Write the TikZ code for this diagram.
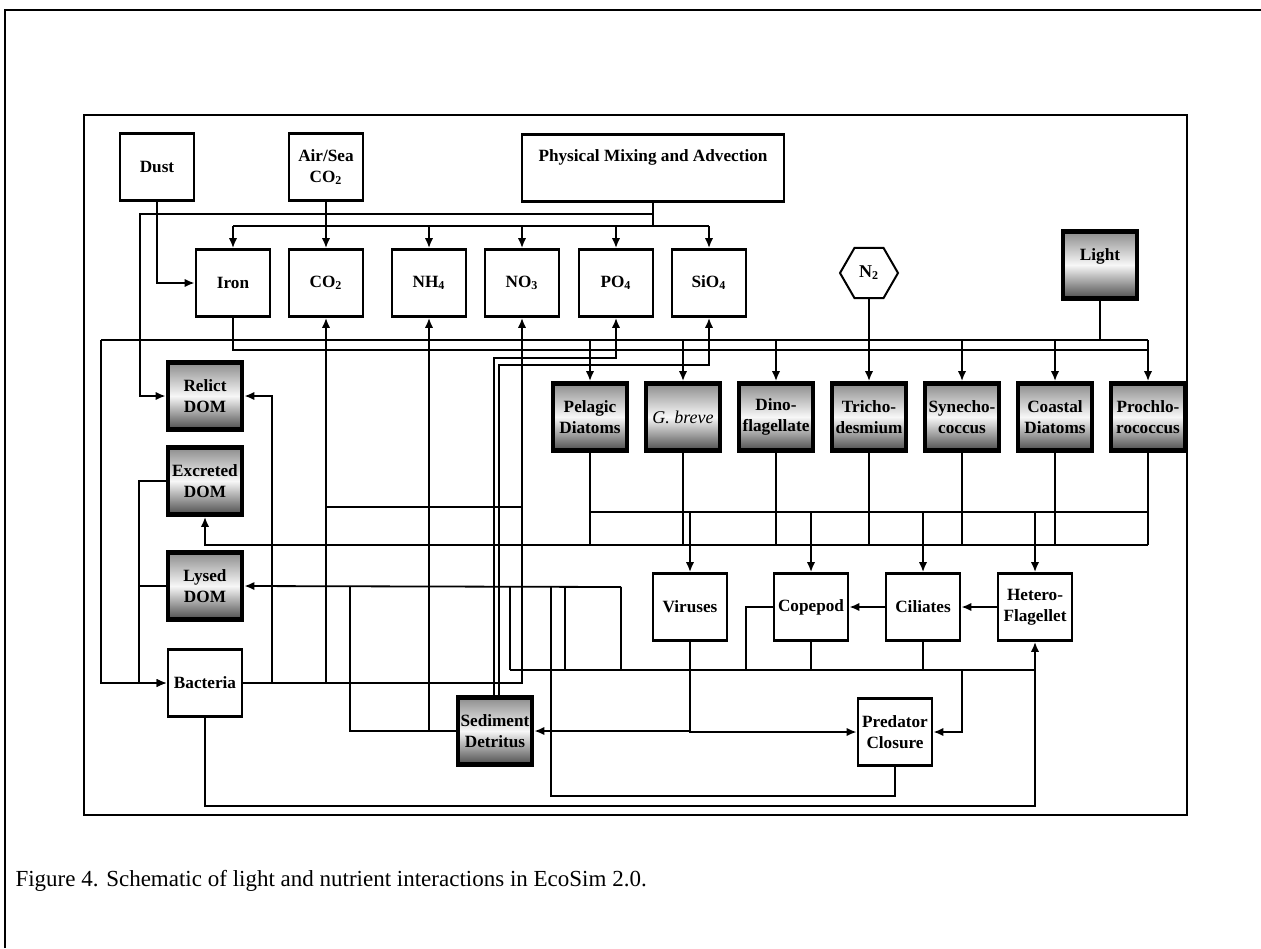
\documentclass[tikz,border=0pt]{standalone}
\usepackage{fontspec}
\setmainfont{Liberation Serif}
\usepackage{tikz}
\usetikzlibrary{shapes,arrows.meta}
\tikzstyle{block} = [draw, rectangle, line width=1.4pt, minimum width=37pt, minimum height=33.5pt, inner sep=0.5pt, align=center, font=\fontsize{8.6}{10.5}\selectfont\bfseries]
\tikzstyle{shadedblock} = [block, line width=2.4pt, top color=black!45, bottom color=black!70, middle color=black!3]
\tikzstyle{hexa} = [draw, regular polygon, regular polygon sides=6, minimum size=29pt, inner sep=0pt, line width=1pt, font=\fontsize{9}{10.5}\selectfont\bfseries]
\tikzstyle{junction} = [coordinate]

\begin{document}
\begin{tikzpicture}[x=0.5pt, y=-0.5pt, >={Latex[length=5pt,width=4.2pt]}, line width=0.9pt]
    \useasboundingbox (0,0) rectangle (1261,948);
    % page and figure frames
    \draw (5,948) -- (5,10) -- (1261,10);
    \draw [line width=0.8pt] (84,115) rectangle (1187,815);
    % sources
    \node [block] (dust) at (157,167) {Dust};
    \node [block] (airsea) at (326,167) {Air/Sea\\CO\textsubscript{2}};
    \node [block, minimum width=131pt, text depth=12pt] (mixing) at (653,168) {Physical Mixing and Advection};
    % nutrients
    \node [block] (iron) at (233,283) {Iron};
    \node [block] (co2) at (326,283) {CO\textsubscript{2}};
    \node [block] (nh4) at (429,283) {NH\textsubscript{4}};
    \node [block] (no3) at (522,283) {NO\textsubscript{3}};
    \node [block] (po4) at (616,283) {PO\textsubscript{4}};
    \node [block] (sio4) at (709,283) {SiO\textsubscript{4}};
    \node [hexa] (n2) at (869,273) {N\textsubscript{2}};
    \node [shadedblock, text depth=10pt] (light) at (1100,265) {Light};
    % phytoplankton
    \node [shadedblock] (pelagic) at (590,417) {Pelagic\\Diatoms};
    \node [shadedblock, right of=pelagic, node distance=46.5pt, font=\fontsize{9}{10.5}\selectfont\itshape] (gbreve) {G. breve};
    \node [shadedblock, right of=gbreve, node distance=46.5pt] (dino) {Dino-\\flagellate};
    \node [shadedblock, right of=dino, node distance=46.5pt] (tricho) {Tricho-\\desmium};
    \node [shadedblock, right of=tricho, node distance=46.5pt] (synecho) {Synecho-\\coccus};
    \node [shadedblock, right of=synecho, node distance=46.5pt] (coastal) {Coastal\\Diatoms};
    \node [shadedblock, right of=coastal, node distance=46.5pt] (prochloro) {Prochlo-\\rococcus};
    % grazers
    \node [block] (viruses) at (690,607) {Viruses};
    \node [block] (copepod) at (811,607) {Copepod};
    \node [block] (ciliates) at (923,607) {Ciliates};
    \node [block] (hetero) at (1035,607) {Hetero-\\Flagellet};
    % dissolved organic matter and bacteria
    \node [shadedblock] (relict) at (205,396) {Relict\\DOM};
    \node [shadedblock] (excreted) at (205,481) {Excreted\\DOM};
    \node [shadedblock] (lysed) at (205,586) {Lysed\\DOM};
    \node [block] (bacteria) at (205,683) {Bacteria};
    \node [shadedblock] (detritus) at (495,731) {Sediment\\Detritus};
    \node [block] (predator) at (895,732) {Predator\\Closure};
    % bus points
    \node [junction] (mixrel) at (140,214) {};
    \node [junction] (mixbus) at (0,226) {};
    \node [junction] (lightbus) at (101,340) {};
    \node [junction] (ironbus) at (0,350) {};
    \node [junction] (pobus) at (494,358) {};
    \node [junction] (sibus) at (499,365) {};
    \node [junction] (cnbus) at (0,507) {};
    \node [junction] (grbus) at (0,512) {};
    \node [junction] (exbus) at (0,545) {};
    \node [junction] (lysbus) at (0,587) {};
    \node [junction] (detlys) at (350,587) {};
    \node [junction] (lowbus) at (510,670) {};
    \node [junction] (lowb) at (565,670) {};
    \node [junction] (lowc) at (621,670) {};
    \node [junction] (coplow) at (746,670) {};
    \node [junction] (predlow) at (962,670) {};
    \node [junction] (bacrel) at (272,683) {};
    \node [junction] (dombus) at (139,683) {};
    \node [junction] (predlys) at (551,796) {};
    \node [junction] (bachet) at (0,806) {};
    % mixing, dust and air/sea exchange
    \draw [->] (dust.south) |- (iron.west);
    \draw [->] (airsea.south) -- (co2.north);
    \draw (mixing.south) -- (mixing.south |- mixbus);
    \draw (iron.north |- mixbus) -- (sio4.north |- mixbus);
    \draw [->] (iron.north |- mixbus) -- (iron.north);
    \draw [->] (nh4.north |- mixbus) -- (nh4.north);
    \draw [->] (no3.north |- mixbus) -- (no3.north);
    \draw [->] (po4.north |- mixbus) -- (po4.north);
    \draw [->] (sio4.north |- mixbus) -- (sio4.north);
    \draw [->] (mixing.south |- mixrel) -- (mixrel) |- (relict.west);
    % light, iron and nitrogen to phytoplankton
    \draw (light.south) -- (light.south |- lightbus);
    \draw (lightbus) -- (prochloro.north |- lightbus);
    \draw (iron.south) |- (prochloro.north |- ironbus);
    \draw [->] (pelagic.north |- lightbus) -- (pelagic.north);
    \draw [->] (gbreve.north |- lightbus) -- (gbreve.north);
    \draw [->] (dino.north |- lightbus) -- (dino.north);
    \draw [->] (synecho.north |- lightbus) -- (synecho.north);
    \draw [->] (coastal.north |- lightbus) -- (coastal.north);
    \draw [->] (prochloro.north |- lightbus) -- (prochloro.north);
    \draw [->] (n2.south) -- (tricho.north);
    \draw [->] (lightbus) |- (bacteria.west);
    % remineralisation
    \draw [->] (detritus.north -| pobus) -- (pobus) -| (po4.south);
    \draw [->] (detritus.north -| sibus) -- (sibus) -| (sio4.south);
    \draw [->] (detritus.west) -| (nh4.south);
    \draw (detritus.west) -| (detlys);
    \draw [->] (bacteria.east) -| (no3.south);
    \draw [->] (co2.south |- bacteria.east) -- (co2.south);
    \draw (co2.south |- cnbus) -- (no3.south |- cnbus);
    \draw [->] (bacrel) |- (relict.east);
    \draw [->] (bacteria.south) -- (bacteria.south |- bachet) -| (hetero.south);
    % DOM to bacteria
    \draw (excreted.west) -| (dombus);
    \draw (lysed.west) -- (lysed.west -| dombus);
    \draw [->] (dombus) -- (bacteria.west);
    % phytoplankton outputs
    \draw (pelagic.south) -- (pelagic.south |- exbus);
    \draw (gbreve.south) -- (gbreve.south |- exbus);
    \draw (dino.south) -- (dino.south |- exbus);
    \draw (tricho.south) -- (tricho.south |- exbus);
    \draw (synecho.south) -- (synecho.south |- exbus);
    \draw (coastal.south) -- (coastal.south |- exbus);
    \draw (prochloro.south) -- (prochloro.south |- exbus);
    \draw [->] (prochloro.south |- exbus) -| (excreted.south);
    \draw (pelagic.south |- grbus) -- (prochloro.south |- grbus);
    \draw [->] (viruses.north |- grbus) -- (viruses.north);
    \draw [->] (copepod.north |- grbus) -- (copepod.north);
    \draw [->] (ciliates.north |- grbus) -- (ciliates.north);
    \draw [->] (hetero.north |- grbus) -- (hetero.north);
    % grazing and losses
    \draw [->] (ciliates) -- (copepod);
    \draw [->] (hetero) -- (ciliates);
    \draw [->] (viruses.south) |- (detritus.east);
    \draw [->] (viruses.south) |- (predator.west);
    \draw (copepod.west) -| (coplow);
    \draw (copepod.south) -- (copepod.south |- lowbus);
    \draw (ciliates.south) -- (ciliates.south |- lowbus);
    \draw (lowbus) -- (hetero.south |- lowbus);
    \draw [->] (predlow) |- (predator.east);
    \draw (predator.south) |- (predlys) -- (predlys |- lysbus);
    % lysed DOM
    \draw [->] (lowc |- lysbus) -- (lysed.east);
    \draw (lowbus) -- (lowbus |- lysbus);
    \draw (lowb) -- (lowb |- lysbus);
    \draw (lowc) -- (lowc |- lysbus);
    % caption
    \node [anchor=west, font=\fontsize{11.5}{13}\selectfont] (caption) at (8,881) {Figure 4. Schematic of light and nutrient interactions in EcoSim 2.0.};
\end{tikzpicture}
\end{document}
